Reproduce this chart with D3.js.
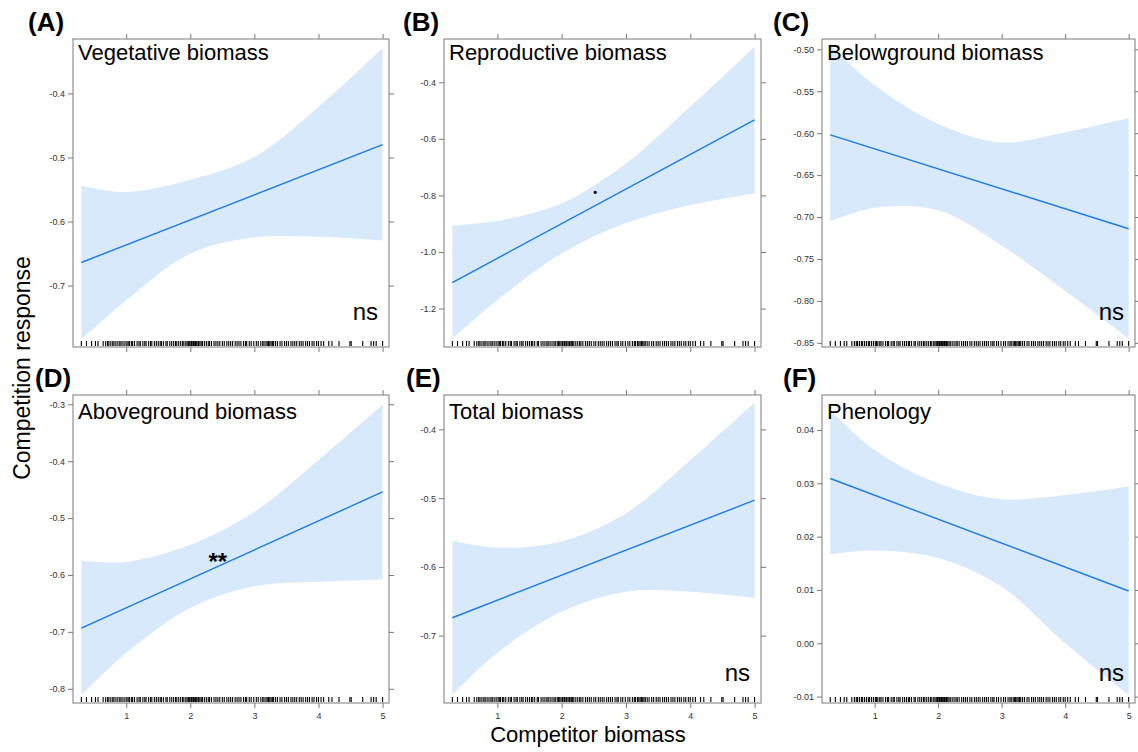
<!DOCTYPE html>
<html>
<head>
<meta charset="utf-8">
<script src="https://cdn.jsdelivr.net/npm/d3@7"></script>
<style>
body { margin: 0; background: #fff; }
svg { display: block; font-family: Arial, "Liberation Sans", sans-serif; }
</style>
</head>
<body>
<div class="container"></div>
<script>
// shared x grid where the confidence band was read, and the fitted line ends
var xGrid = [0.3, 1, 2, 3, 4, 5];
var fitX = [0.3, 5];
var xTicks = [1, 2, 3, 4, 5];
var xDomain = [0.17, 5.1];

// competitor biomass of the observations (rug)
var rugX = [0.30, 0.38, 0.46, 0.52, 0.56, 0.64, 0.68, 0.71, 0.73, 0.76, 0.79, 0.81, 0.84, 0.87, 0.90,
	0.92, 0.95, 0.98, 1.01, 1.03, 1.05, 1.08, 1.10, 1.13, 1.17, 1.20, 1.22, 1.26, 1.29, 1.31, 1.35,
	1.38, 1.40, 1.44, 1.47, 1.50, 1.53, 1.55, 1.58, 1.62, 1.64, 1.68, 1.71, 1.74, 1.77, 1.79, 1.82,
	1.85, 1.88, 1.90, 1.93, 1.95, 1.97, 1.99, 2.01, 2.02, 2.04, 2.05, 2.07, 2.08, 2.10, 2.12, 2.13,
	2.15, 2.17, 2.19, 2.22, 2.25, 2.28, 2.30, 2.33, 2.37, 2.40, 2.43, 2.46, 2.50, 2.53, 2.57, 2.60,
	2.63, 2.66, 2.70, 2.73, 2.76, 2.79, 2.83, 2.86, 2.88, 2.92, 2.95, 2.99, 3.03, 3.06, 3.10, 3.13,
	3.15, 3.18, 3.20, 3.22, 3.24, 3.26, 3.28, 3.30, 3.33, 3.36, 3.40, 3.43, 3.47, 3.50, 3.53, 3.57,
	3.60, 3.63, 3.66, 3.70, 3.73, 3.76, 3.80, 3.83, 3.86, 3.90, 3.93, 3.97, 4.00, 4.04, 4.08, 4.16,
	4.21, 4.32, 4.49, 4.51, 4.69, 4.82, 4.86, 4.90, 5.00];

var vegFit = [-0.664, -0.480];
var vegUpper = [-0.544, -0.554, -0.535, -0.499, -0.421, -0.329];
var vegLower = [-0.784, -0.723, -0.650, -0.625, -0.624, -0.630];
var vegTicks = [-0.7, -0.6, -0.5, -0.4];
var vegDomain = [-0.796, -0.315];

var repFit = [-1.108, -0.533];
var repUpper = [-0.907, -0.890, -0.828, -0.687, -0.486, -0.274];
var repLower = [-1.306, -1.170, -1.005, -0.898, -0.834, -0.793];
var repTicks = [-1.2, -1.0, -0.8, -0.6, -0.4];
var repDomain = [-1.336, -0.247];

var belFit = [-0.602, -0.714];
var belUpper = [-0.495, -0.543, -0.589, -0.611, -0.599, -0.582];
var belLower = [-0.705, -0.689, -0.692, -0.734, -0.788, -0.845];
var belTicks = [-0.85, -0.80, -0.75, -0.70, -0.65, -0.60, -0.55, -0.50];
var belDomain = [-0.855, -0.4877];

var aboFit = [-0.6935, -0.454];
var aboUpper = [-0.575, -0.577, -0.547, -0.489, -0.398, -0.301];
var aboLower = [-0.811, -0.737, -0.658, -0.620, -0.612, -0.608];
var aboTicks = [-0.8, -0.7, -0.6, -0.5, -0.4, -0.3];
var aboDomain = [-0.825, -0.2837];

var totFit = [-0.674, -0.503];
var totUpper = [-0.562, -0.572, -0.563, -0.522, -0.445, -0.361];
var totLower = [-0.786, -0.725, -0.665, -0.636, -0.636, -0.645];
var totTicks = [-0.7, -0.6, -0.5, -0.4];
var totDomain = [-0.798, -0.350];

var pheFit = [0.0309, 0.0098];
var pheUpper = [0.0438, 0.0362, 0.0300, 0.0270, 0.0278, 0.0294];
var pheLower = [0.0167, 0.0174, 0.0160, 0.0106, 0.0000, -0.0097];
var pheTicks = [-0.01, 0.00, 0.01, 0.02, 0.03, 0.04];
var pheDomain = [-0.0112, 0.04656];

var panelLetters = ['(A)', '(B)', '(C)', '(D)', '(E)', '(F)'];
var panelTitles = ['Vegetative biomass', 'Reproductive biomass', 'Belowground biomass',
	'Aboveground biomass', 'Total biomass', 'Phenology'];
var sigLabels = ['ns', '\u2022', 'ns', '**', 'ns', 'ns'];
var sigX = [null, 2.52, null, 2.43, null, null];
var sigY = [null, -0.79, null, -0.568, null, null];

//-----------------------------------------------------------------------------------------------------------------

var WIDTH = 1138, HEIGHT = 752;
var COLS = [[73, 389], [444, 761], [822, 1135]];
var ROWS = [[39, 347], [395, 703]];
var LETTER_X = [28, 403, 773, 35, 406, 783];
var BAND = '#d8e9fc', LINE = '#1a7ae6', FRAME = '#7a7a7a', TICKTXT = '#333';

var panels = [
	{fit: vegFit, upper: vegUpper, lower: vegLower, ticks: vegTicks, domain: vegDomain, fmt: '.1f'},
	{fit: repFit, upper: repUpper, lower: repLower, ticks: repTicks, domain: repDomain, fmt: '.1f'},
	{fit: belFit, upper: belUpper, lower: belLower, ticks: belTicks, domain: belDomain, fmt: '.2f'},
	{fit: aboFit, upper: aboUpper, lower: aboLower, ticks: aboTicks, domain: aboDomain, fmt: '.1f'},
	{fit: totFit, upper: totUpper, lower: totLower, ticks: totTicks, domain: totDomain, fmt: '.1f'},
	{fit: pheFit, upper: pheUpper, lower: pheLower, ticks: pheTicks, domain: pheDomain, fmt: '.2f'}
];

var svg = d3.select('.container').append('svg')
	.attr('width', WIDTH)
	.attr('height', HEIGHT);

var fixMinus = function(s) { return s.replace('\u2212', '-'); };

var drawPanel = function(p, i) {
	var col = COLS[i % 3], row = ROWS[Math.floor(i / 3)];
	var x = d3.scaleLinear().domain(xDomain).range(col);
	var y = d3.scaleLinear().domain(p.domain).range([row[1], row[0]]);
	var g = svg.append('g');

	var clipId = 'clip' + i;
	svg.append('clipPath').attr('id', clipId).append('rect')
		.attr('x', col[0]).attr('y', row[0])
		.attr('width', col[1] - col[0]).attr('height', row[1] - row[0]);

	var band = d3.area()
		.x(function(d, k) { return x(xGrid[k]); })
		.y0(function(d, k) { return y(p.lower[k]); })
		.y1(function(d, k) { return y(p.upper[k]); })
		.curve(d3.curveCatmullRom.alpha(0.5));

	var line = d3.line()
		.x(function(d, k) { return x(fitX[k]); })
		.y(function(d) { return y(d); });

	var inner = g.append('g').attr('clip-path', 'url(#' + clipId + ')');
	inner.append('path').datum(xGrid).attr('d', band).attr('fill', BAND);
	inner.append('path').datum(p.fit).attr('d', line)
		.attr('fill', 'none').attr('stroke', LINE).attr('stroke-width', 1.4);

	// rug
	inner.selectAll('line.rug').data(rugX).enter().append('line')
		.attr('class', 'rug')
		.attr('x1', function(d) { return x(d); })
		.attr('x2', function(d) { return x(d); })
		.attr('y1', row[1] - 1).attr('y2', row[1] - 6)
		.attr('stroke', '#000').attr('stroke-width', 1.1);

	// axes on all four sides, labels on left (and bottom for lower row)
	var fmt = d3.format(p.fmt);
	var left = d3.axisLeft(y).tickValues(p.ticks).tickSize(5).tickPadding(3)
		.tickFormat(function(d) { return fixMinus(fmt(d)); });
	var right = d3.axisRight(y).tickValues(p.ticks).tickSize(5).tickFormat('');
	var top = d3.axisTop(x).tickValues(xTicks).tickSize(5).tickFormat('');
	var bottom = d3.axisBottom(x).tickValues(xTicks).tickSize(5).tickPadding(5)
		.tickFormat(i >= 3 ? d3.format('d') : '');

	var styleAxis = function(a) {
		a.select('.domain').remove();
		a.selectAll('.tick line').attr('stroke', FRAME);
		a.selectAll('.tick text').attr('fill', TICKTXT).style('font-size', '9px')
			.style('font-family', 'Arial, "Liberation Sans", sans-serif');
	};
	g.append('g').attr('transform', 'translate(' + col[0] + ',0)').call(left).call(styleAxis);
	g.append('g').attr('transform', 'translate(' + col[1] + ',0)').call(right).call(styleAxis);
	g.append('g').attr('transform', 'translate(0,' + row[0] + ')').call(top).call(styleAxis);
	g.append('g').attr('transform', 'translate(0,' + row[1] + ')').call(bottom).call(styleAxis);

	g.append('rect')
		.attr('x', col[0]).attr('y', row[0])
		.attr('width', col[1] - col[0]).attr('height', row[1] - row[0])
		.attr('fill', 'none').attr('stroke', FRAME).attr('stroke-width', 1);

	g.append('text')
		.attr('x', col[0] + 5).attr('y', row[0] + (i < 3 ? 21 : 24))
		.style('font-size', '22px').attr('fill', '#000')
		.text(panelTitles[i]);

	g.append('text')
		.attr('x', LETTER_X[i]).attr('y', row[0] - 8)
		.style('font-size', '26px').style('font-weight', 'bold').attr('fill', '#000')
		.text(panelLetters[i]);

	if (sigX[i] === null) {
		g.append('text')
			.attr('x', col[1] - 11).attr('y', row[1] - (i < 3 ? 27 : 22))
			.attr('text-anchor', 'end')
			.style('font-size', '24px').attr('fill', '#000')
			.text(sigLabels[i]);
	} else {
		g.append('text')
			.attr('x', x(sigX[i])).attr('y', y(sigY[i]))
			.attr('text-anchor', 'middle')
			.attr('dy', sigLabels[i] === '**' ? '0.55em' : '0.35em')
			.style('font-size', sigLabels[i] === '**' ? '24px' : '11px')
			.style('font-weight', 'bold').attr('fill', '#000')
			.text(sigLabels[i]);
	}
};

panels.forEach(drawPanel);

svg.append('text')
	.attr('transform', 'translate(30,368) rotate(-90)')
	.attr('text-anchor', 'middle')
	.style('font-size', '23px').attr('fill', '#000')
	.text('Competition response');

svg.append('text')
	.attr('x', 588).attr('y', 742)
	.attr('text-anchor', 'middle')
	.style('font-size', '22px').attr('fill', '#000')
	.text('Competitor biomass');
</script>
</body>
</html>
